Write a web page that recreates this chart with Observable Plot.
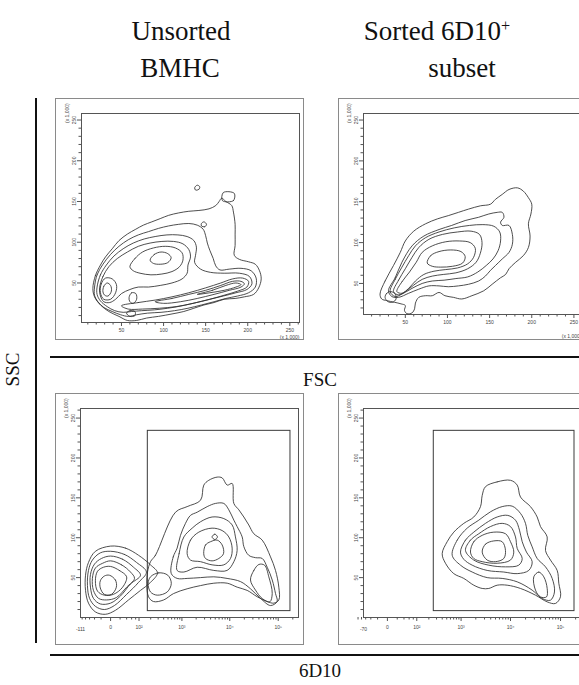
<!DOCTYPE html>
<html><head><meta charset="utf-8">
<script src="https://cdn.jsdelivr.net/npm/d3@7"></script>
<script src="https://cdn.jsdelivr.net/npm/@observablehq/plot@0.6"></script>
<style>
body{margin:0;background:#fff;}
#fig{position:relative;width:579px;height:685px;overflow:hidden;background:#fff;font-family:"Liberation Serif","Times New Roman",serif;color:#111;}
.t{position:absolute;white-space:nowrap;transform:translateX(-50%);line-height:1;}
.big{font-size:27px;}
.mid{font-size:19px;}
.rule{position:absolute;background:#111;}
.panel{position:absolute;}
.panel svg{display:block;max-width:none !important;outline:1px solid #8a8a8a;outline-offset:-1px;}
sup{font-size:60%;vertical-align:0;position:relative;top:-0.55em;}
</style></head><body><div id="fig"></div>
<script>
// ---------- text ----------
const colTitleTop = ["Unsorted", "Sorted 6D10"];
const colTitleBottom = ["BMHC", "subset"];
const yAxisTitle = "SSC";
const topXAxisTitle = "FSC";
const bottomXAxisTitle = "6D10";
const scaleNote = "(x 1,000)";

// ---------- axes ----------
const linMajor = [50, 100, 150, 200, 250];
const linMinor = [10,20,30,40,60,70,80,90,110,120,130,140,160,170,180,190,210,220,230,240,260];
const biexMajor = [0, 100, 1000, 10000, 100000];
const biexLabels = ["0", "10²", "10³", "10⁴", "10⁵"];
const biexMinor = [-100,-80,-60,-40,-20,20,40,60,80,200,300,400,500,600,700,800,900,
  2000,3000,4000,5000,6000,7000,8000,9000,20000,30000,40000,50000,60000,70000,80000,90000,200000];
const biexLowUnsorted = -111;
const biexLowSorted = -70;
const biexTop = 262144;

// ---------- gates (6D10 x SSC) ----------
const gateUnsorted = {x1: 170, x2: 179000, y1: 8, y2: 234};
const gateSorted = {x1: 260, x2: 190000, y1: 8, y2: 234};

// ---------- contours: Unsorted BMHC, FSC x SSC (x1000) ----------
const uf_c1 = [[16,43],[19,59],[25,72],[31,82],[39,92],[47,102],[57,110],[67,116],[76,121],[86,125],[96,129],[106,133],[118,136],[130,138],[142,139],[154,141],[162,145],[166,150],[169,154],[174,150],[181,145],[183,137],[185,122],[185,110],[185,96],[184,84],[190,79],[201,76],[209,73],[214,65],[216,55],[213,44],[207,36],[196,33],[185,31],[172,30],[160,26],[148,23],[136,19],[124,15],[110,12],[94,9],[80,7],[68,4],[57,4],[47,9],[35,15],[25,23],[18,33]];
const uf_c2 = [[18,45],[21,60],[28,73],[37,85],[47,95],[58,103],[70,109],[82,113],[94,117],[106,120],[118,122],[130,123],[140,121],[147,116],[150,108],[152,99],[155,90],[159,80],[162,71],[167,66],[178,67],[192,68],[204,65],[210,56],[209,45],[201,38],[188,34],[174,31],[160,27],[145,23],[129,19],[113,16],[97,14],[81,13],[68,11],[58,9],[49,11],[39,15],[29,20],[22,27],[18,35]];
const uf_c3 = [[21,45],[25,60],[32,72],[41,83],[52,92],[64,99],[77,104],[90,107],[104,109],[117,109],[128,107],[136,102],[139,94],[138,84],[137,75],[144,67],[156,63],[172,62],[190,62],[202,58],[205,49],[199,42],[186,38],[171,34],[155,30],[139,26],[122,22],[105,19],[89,17],[74,16],[62,15],[52,14],[42,16],[33,21],[25,28],[21,36]];
const uf_c4 = [[24,44],[28,58],[35,70],[45,80],[57,88],[70,95],[84,99],[98,101],[112,101],[123,98],[130,91],[132,82],[129,72],[128,62],[122,55],[110,50],[96,47],[82,45],[70,45],[60,42],[50,37],[43,30],[36,26],[29,27],[25,34]];
const uf_c5 = [[60,70],[66,80],[75,88],[88,93],[102,95],[114,93],[122,87],[123,78],[119,70],[110,64],[98,61],[85,60],[72,62],[64,65]];
const uf_c6 = [[84,78],[89,85],[97,88],[105,86],[109,81],[105,75],[96,73],[88,74]];
const uf_h1 = [[25,38],[26,49],[31,56],[39,55],[44,48],[43,38],[37,30],[29,30]];
const uf_h2 = [[28,39],[29,46],[33,50],[37,47],[38,40],[34,34],[30,35]];
const uf_b1 = [[50,22],[70,26],[90,29],[110,33],[130,38],[150,44],[168,50],[182,55],[194,56],[201,52],[199,45],[188,40],[172,35],[155,30],[135,25],[115,21],[95,19],[75,18],[58,18]];
const uf_b2 = [[90,27],[110,31],[130,36],[150,41],[168,47],[182,52],[192,52],[196,49],[192,45],[178,41],[160,36],[140,31],[120,27],[100,25]];
const uf_b3 = [[140,36],[158,41],[174,47],[186,50],[192,48],[186,45],[172,41],[155,38]];
const uf_s1 = [[138,164],[142,165],[143,168],[140,170],[137,167]];
const uf_s2 = [[170,151],[183,151],[184,160],[171,161]];
const uf_s3 = [[145,120],[149,119],[151,122],[148,125],[145,123]];
const uf_s4 = [[59,32],[62,38],[67,37],[68,30],[64,25],[60,27]];
const uf_s5 = [[56,13],[60,16],[66,15],[66,10],[60,9]];

// ---------- contours: Sorted 6D10+ subset, FSC x SSC (x1000) ----------
const sf_c1 = [[20,37],[26,53],[36,72],[44,88],[50,102],[60,114],[74,123],[88,129],[101,133],[113,137],[125,141],[139,145],[151,147],[157,153],[165,159],[173,165],[183,167],[190,163],[196,155],[200,147],[199,135],[196,123],[198,108],[196,94],[190,84],[181,76],[173,68],[169,61],[163,57],[153,49],[143,41],[129,35],[117,31],[107,33],[97,35],[90,39],[82,35],[74,35],[66,33],[62,26],[61,19],[58,14],[52,13],[49,17],[50,23],[45,25],[37,27],[28,29],[22,31]];
const sf_c2 = [[30,41],[38,57],[46,76],[58,96],[72,108],[90,116],[105,121],[121,127],[137,131],[149,135],[159,137],[165,137],[167,131],[163,125],[165,121],[173,121],[177,110],[177,98],[173,88],[165,80],[157,72],[151,66],[145,59],[137,53],[125,49],[113,47],[101,46],[90,47],[78,47],[66,43],[54,38],[42,33],[34,34]];
const sf_c3 = [[32,40],[38,55],[46,70],[54,84],[62,96],[74,106],[90,113],[108,118],[126,121],[142,122],[155,120],[162,113],[163,102],[160,90],[154,80],[146,72],[136,64],[124,58],[110,56],[96,54],[82,53],[70,50],[58,44],[46,37],[38,34]];
const sf_c4 = [[36,40],[42,54],[50,68],[58,82],[66,94],[78,104],[94,110],[112,113],[128,114],[138,110],[141,100],[139,87],[134,76],[124,68],[110,63],[95,61],[82,59],[70,55],[60,48],[50,40],[42,36]];
const sf_c5 = [[40,40],[46,52],[55,64],[63,76],[70,88],[82,96],[98,101],[114,102],[127,100],[133,93],[131,82],[124,74],[112,69],[98,67],[84,65],[72,61],[62,53],[54,44],[46,38]];
const sf_c6 = [[76,75],[80,84],[90,89],[104,91],[116,89],[121,83],[118,75],[106,71],[92,70],[82,71]];
const sf_h1 = [[26,33],[28,38],[33,40],[38,37],[39,31],[35,27],[29,28]];

// ---------- contours: Unsorted BMHC, 6D10 x SSC (x1000) ----------
const ub_a = [[0,89.5],[36,87],[97,78],[198,66],[289,56],[198,44],[110,34],[47,22],[9,9],[-10,4],[-37,7],[-65,18],[-80,34],[-80,53],[-65,69],[-37,83]];
const ub_b = [[0,83],[33,79],[85,69],[157,57],[97,44],[40,29],[7,15],[-12,10],[-37,14],[-60,24],[-70,40],[-65,59],[-48,72],[-22,81]];
const ub_c = [[0,77],[27,73],[69,63],[110,53],[55,42],[21,27],[0,18],[-22,17],[-44,24],[-56,38],[-56,54],[-40,67],[-19,74]];
const ub_d = [[0,71],[24,66],[55,57],[74,49],[40,38],[11,25],[-7.5,22],[-27,24],[-44,34],[-48,49],[-37,62],[-16,68]];
const ub_e = [[0,64],[18,59],[40,51],[27,38],[5,29],[-12,28],[-30,33],[-37,46],[-30,58],[-14,63]];
const ub_f = [[-2,53],[9,47],[11,38],[1.5,29],[-12,29],[-22,37],[-22,46],[-12,52]];
const ub_t1 = [[198,70],[260,78],[728,132],[1290,139],[2470,147],[2890,166],[3670,172],[5490,176],[6970,175],[8850,166],[11230,168],[12140,143],[15400,135],[19530,126],[24700,116],[31400,105],[46800,97],[69400,76],[88000,59],[103000,38],[103000,22],[81200,18],[59300,20],[36900,26],[22900,34],[14250,38],[8850,43],[4670,43],[2470,40],[1290,36],[660,30],[400,22],[233,20],[177,26],[160,43],[167,57]];
const ub_t2 = [[590,55],[650,76],[790,87],[932,103],[1190,118],[1519,128],[2100,132],[3400,139],[5060,143],[7530,143],[9550,135],[12150,122],[14200,114],[18050,101],[19500,89],[24600,78],[34000,75],[46800,74],[59300,63],[75300,47],[88000,30],[94800,20],[69400,15],[43150,24],[26800,36],[16670,45],[8800,49],[4670,51],[2464,50],[1290,49],[790,49]];
const ub_t3 = [[790,59],[870,80],[1100,101],[1650,112],[2464,120],[4300,126],[7530,124],[11200,116],[13100,101],[14200,84],[12150,70],[8800,59],[4670,59],[2100,63],[1100,57]];
const ub_t4 = [[1290,80],[1519,97],[2270,107],[4300,112],[6950,109],[9550,101],[11200,87],[10350,74],[7530,66],[4300,66],[2464,70],[1519,72]];
const ub_t5 = [[2880,80],[3140,91],[3986,95],[5490,97],[6950,91],[7420,80],[5930,74],[4300,71],[3140,74]];
const ub_t6 = [[4290,101],[4900,104.5],[5560,101],[4900,97.7]];
const ub_r1 = [[26800,47],[31400,59],[40000,66.5],[52200,65.6],[64000,51],[75300,30],[67000,19.6],[46800,23.8],[34000,34.3]];
const ub_l1 = [[198,51],[310,56],[495,53],[590,42.7],[480,32],[285,28],[198,32],[173,42.7]];

// ---------- contours: Sorted 6D10+ subset, 6D10 x SSC (x1000) ----------
const sb_c1 = [[3141,164],[5400,170],[9990,172],[13610,166],[15840,151],[25080,139],[34150,126],[39760,114],[54120,101],[50060,84],[62970,72],[85680,59],[92270,43],[99780,26],[79200,17.6],[54120,19.6],[31580,28],[15840,36.4],[8580,40.5],[5400,40.5],[3660,36.4],[2696,36.4],[1821,40.5],[1137,49],[705,55],[470,68],[399,80],[511,95],[705,107],[1137,118],[1821,126],[2490,139],[2696,153]];
const sb_c2 = [[653,78],[831,97],[1335,112],[2300,122],[3960,132.5],[6810,139],[10800,139.6],[15840,130.5],[19950,118],[22150,103],[27120,88.6],[34150,74],[50060,63.5],[68110,49],[75690,32],[62970,21.7],[42990,23.8],[27120,34.3],[13610,44.7],[6810,49],[3400,50],[1689,57],[972,65.6]];
const sb_c3 = [[972,82],[1232,97],[1821,107],[3141,118],[5400,126],[8820,128],[12580,122],[15130,109.5],[17140,95],[20860,82],[27120,70],[23190,59],[13610,55],[7330,57],[3400,59],[1689,65.6],[1137,73]];
const sb_c4 = [[1232,84],[1559,97],[2300,105],[3960,114],[6810,118],[9990,114],[12580,101],[13610,86.6],[17140,74],[14650,65.6],[7930,63.5],[3660,65.6],[1821,72]];
const sb_c5 = [[1559,82],[1821,95],[2696,103],[4620,107],[7930,105],[9990,95],[11630,82],[9990,72],[5400,68],[2696,70],[1821,74]];
const sb_c6 = [[2696,82],[3141,92],[4620,96],[6810,95],[7930,84],[7330,74],[4995,70],[3400,72]];
const sb_r1 = [[29210,51],[36770,57],[46300,51],[54120,36.4],[52430,25.8],[39760,25.8],[31580,34.3]];

const unsortedFSC = [uf_c1, uf_c2, uf_c3, uf_c4, uf_c5, uf_c6, uf_h1, uf_h2, uf_b1, uf_b2, uf_b3, uf_s1, uf_s2, uf_s3, uf_s4, uf_s5];
const sortedFSC = [sf_c1, sf_c2, sf_c3, sf_c4, sf_c5, sf_c6, sf_h1];
const unsorted6D10 = [ub_a, ub_b, ub_c, ub_d, ub_e, ub_f, ub_t1, ub_t2, ub_t3, ub_t4, ub_t5, ub_t6, ub_r1, ub_l1];
const sorted6D10 = [sb_c1, sb_c2, sb_c3, sb_c4, sb_c5, sb_c6, sb_r1];

// ---------- drawing ----------
const fig = document.getElementById("fig");
const AX = "#555", LINE = "#2e2e2e";
const tickFont = {fontSize: 5, fontFamily: "Liberation Sans, Arial, sans-serif", fill: "#444"};

function flatten(list) {
  return list.flatMap((pts, k) => pts.map(([x, y]) => ({x, y, k})));
}

function addPanel({left, top, width, height, mt, mr, mb, ml, x, y, contours, bottomNoteDy, biex, low, gate}) {
  const marks = [
    Plot.frame({stroke: AX, strokeWidth: 1}),
    Plot.axisY(linMinor.filter(v => v >= y.domain[0] && v <= y.domain[1]), {tickSize: 2.5, stroke: AX, tickFormat: () => "", label: null}),
    Plot.axisY(linMajor, {tickSize: 4, stroke: AX, tickRotate: -90, tickPadding: 1.5, label: null, ...tickFont}),
    Plot.text([scaleNote], {frameAnchor: "top-left", rotate: -90, dx: -16, dy: 9.5, ...tickFont})
  ];
  if (!biex) {
    marks.push(
      Plot.axisX(linMinor.filter(v => v >= x.domain[0] && v <= x.domain[1]), {tickSize: 2.5, stroke: AX, tickFormat: () => "", label: null}),
      Plot.axisX(linMajor, {tickSize: 4, stroke: AX, tickPadding: 2, label: null, ...tickFont}),
      Plot.text([scaleNote], {frameAnchor: "bottom-right", dy: bottomNoteDy, textAnchor: "end", ...tickFont})
    );
  } else {
    const lab = new Map(biexMajor.map((v, i) => [v, biexLabels[i]]));
    marks.push(
      Plot.axisX(biexMinor, {tickSize: 2.5, stroke: AX, tickFormat: () => "", label: null}),
      Plot.axisX(biexMajor, {tickSize: 4, stroke: AX, tickPadding: 3.5, tickFormat: d => lab.get(d), label: null, ...tickFont}),
      Plot.text([low], {x: d => d, frameAnchor: "bottom", dy: 13, text: d => String(d), ...tickFont}),
      Plot.rect([gate], {x1: "x1", x2: "x2", y1: "y1", y2: "y2", fill: "none", stroke: "#3a3a3a", strokeWidth: 1})
    );
  }
  marks.push(Plot.line(flatten(contours), {x: "x", y: "y", z: "k", curve: "catmull-rom-closed", stroke: LINE, strokeWidth: 0.85}));
  const svg = Plot.plot({
    width, height, marginTop: mt, marginRight: mr, marginBottom: mb, marginLeft: ml,
    x: {...x, label: null}, y: {...y, label: null}, marks,
    style: {background: "white", overflow: "visible", maxWidth: "none"}
  });
  const div = document.createElement("div");
  div.className = "panel";
  div.style.left = left + "px";
  div.style.top = top + "px";
  div.style.width = width + "px";
  div.style.height = height + "px";
  div.appendChild(svg);
  fig.appendChild(div);
}

addPanel({left: 55, top: 98, width: 249, height: 242, mt: 15, mr: 5, mb: 18, ml: 26,
  x: {domain: [2.5, 261.5]}, y: {domain: [1.5, 258]}, contours: unsortedFSC, bottomNoteDy: 16});
addPanel({left: 338, top: 98, width: 249, height: 242, mt: 15, mr: 6, mb: 26, ml: 25,
  x: {domain: [0.4, 259]}, y: {domain: [12, 258]}, contours: sortedFSC, bottomNoteDy: 23});
addPanel({left: 55, top: 393, width: 249, height: 252, mt: 15, mr: 6, mb: 28, ml: 25,
  x: {type: "symlog", constant: 35, domain: [biexLowUnsorted, biexTop]}, y: {domain: [0, 262]},
  contours: unsorted6D10, biex: true, low: biexLowUnsorted, gate: gateUnsorted});
addPanel({left: 338, top: 393, width: 249, height: 252, mt: 15, mr: 6, mb: 28, ml: 25,
  x: {type: "symlog", constant: 35, domain: [biexLowSorted, biexTop]}, y: {domain: [0, 262]},
  contours: sorted6D10, biex: true, low: biexLowSorted, gate: gateSorted});

// ---------- figure-level text and rules ----------
function addText(html, cls, cx, topPx) {
  const d = document.createElement("div");
  d.className = "t " + cls;
  d.innerHTML = html;
  d.style.left = cx + "px";
  d.style.top = topPx + "px";
  fig.appendChild(d);
  return d;
}
addText(colTitleTop[0], "big", 181, 18);
addText(colTitleBottom[0], "big", 180, 55);
addText(colTitleTop[1] + "<sup>+</sup>", "big", 437, 18);
addText(colTitleBottom[1], "big", 462, 55);
addText(topXAxisTitle, "mid", 320, 370);
addText(bottomXAxisTitle, "mid", 320, 661);
const ssc = addText(yAxisTitle, "mid", 12, 360);
ssc.style.transform = "translateX(-50%) rotate(-90deg)";

function addRule(l, t, w, h) {
  const r = document.createElement("div");
  r.className = "rule";
  Object.assign(r.style, {left: l + "px", top: t + "px", width: w + "px", height: h + "px"});
  fig.appendChild(r);
}
addRule(35, 98, 2, 545);
addRule(50, 356, 529, 2);
addRule(50, 654, 529, 2);
</script></body></html>
